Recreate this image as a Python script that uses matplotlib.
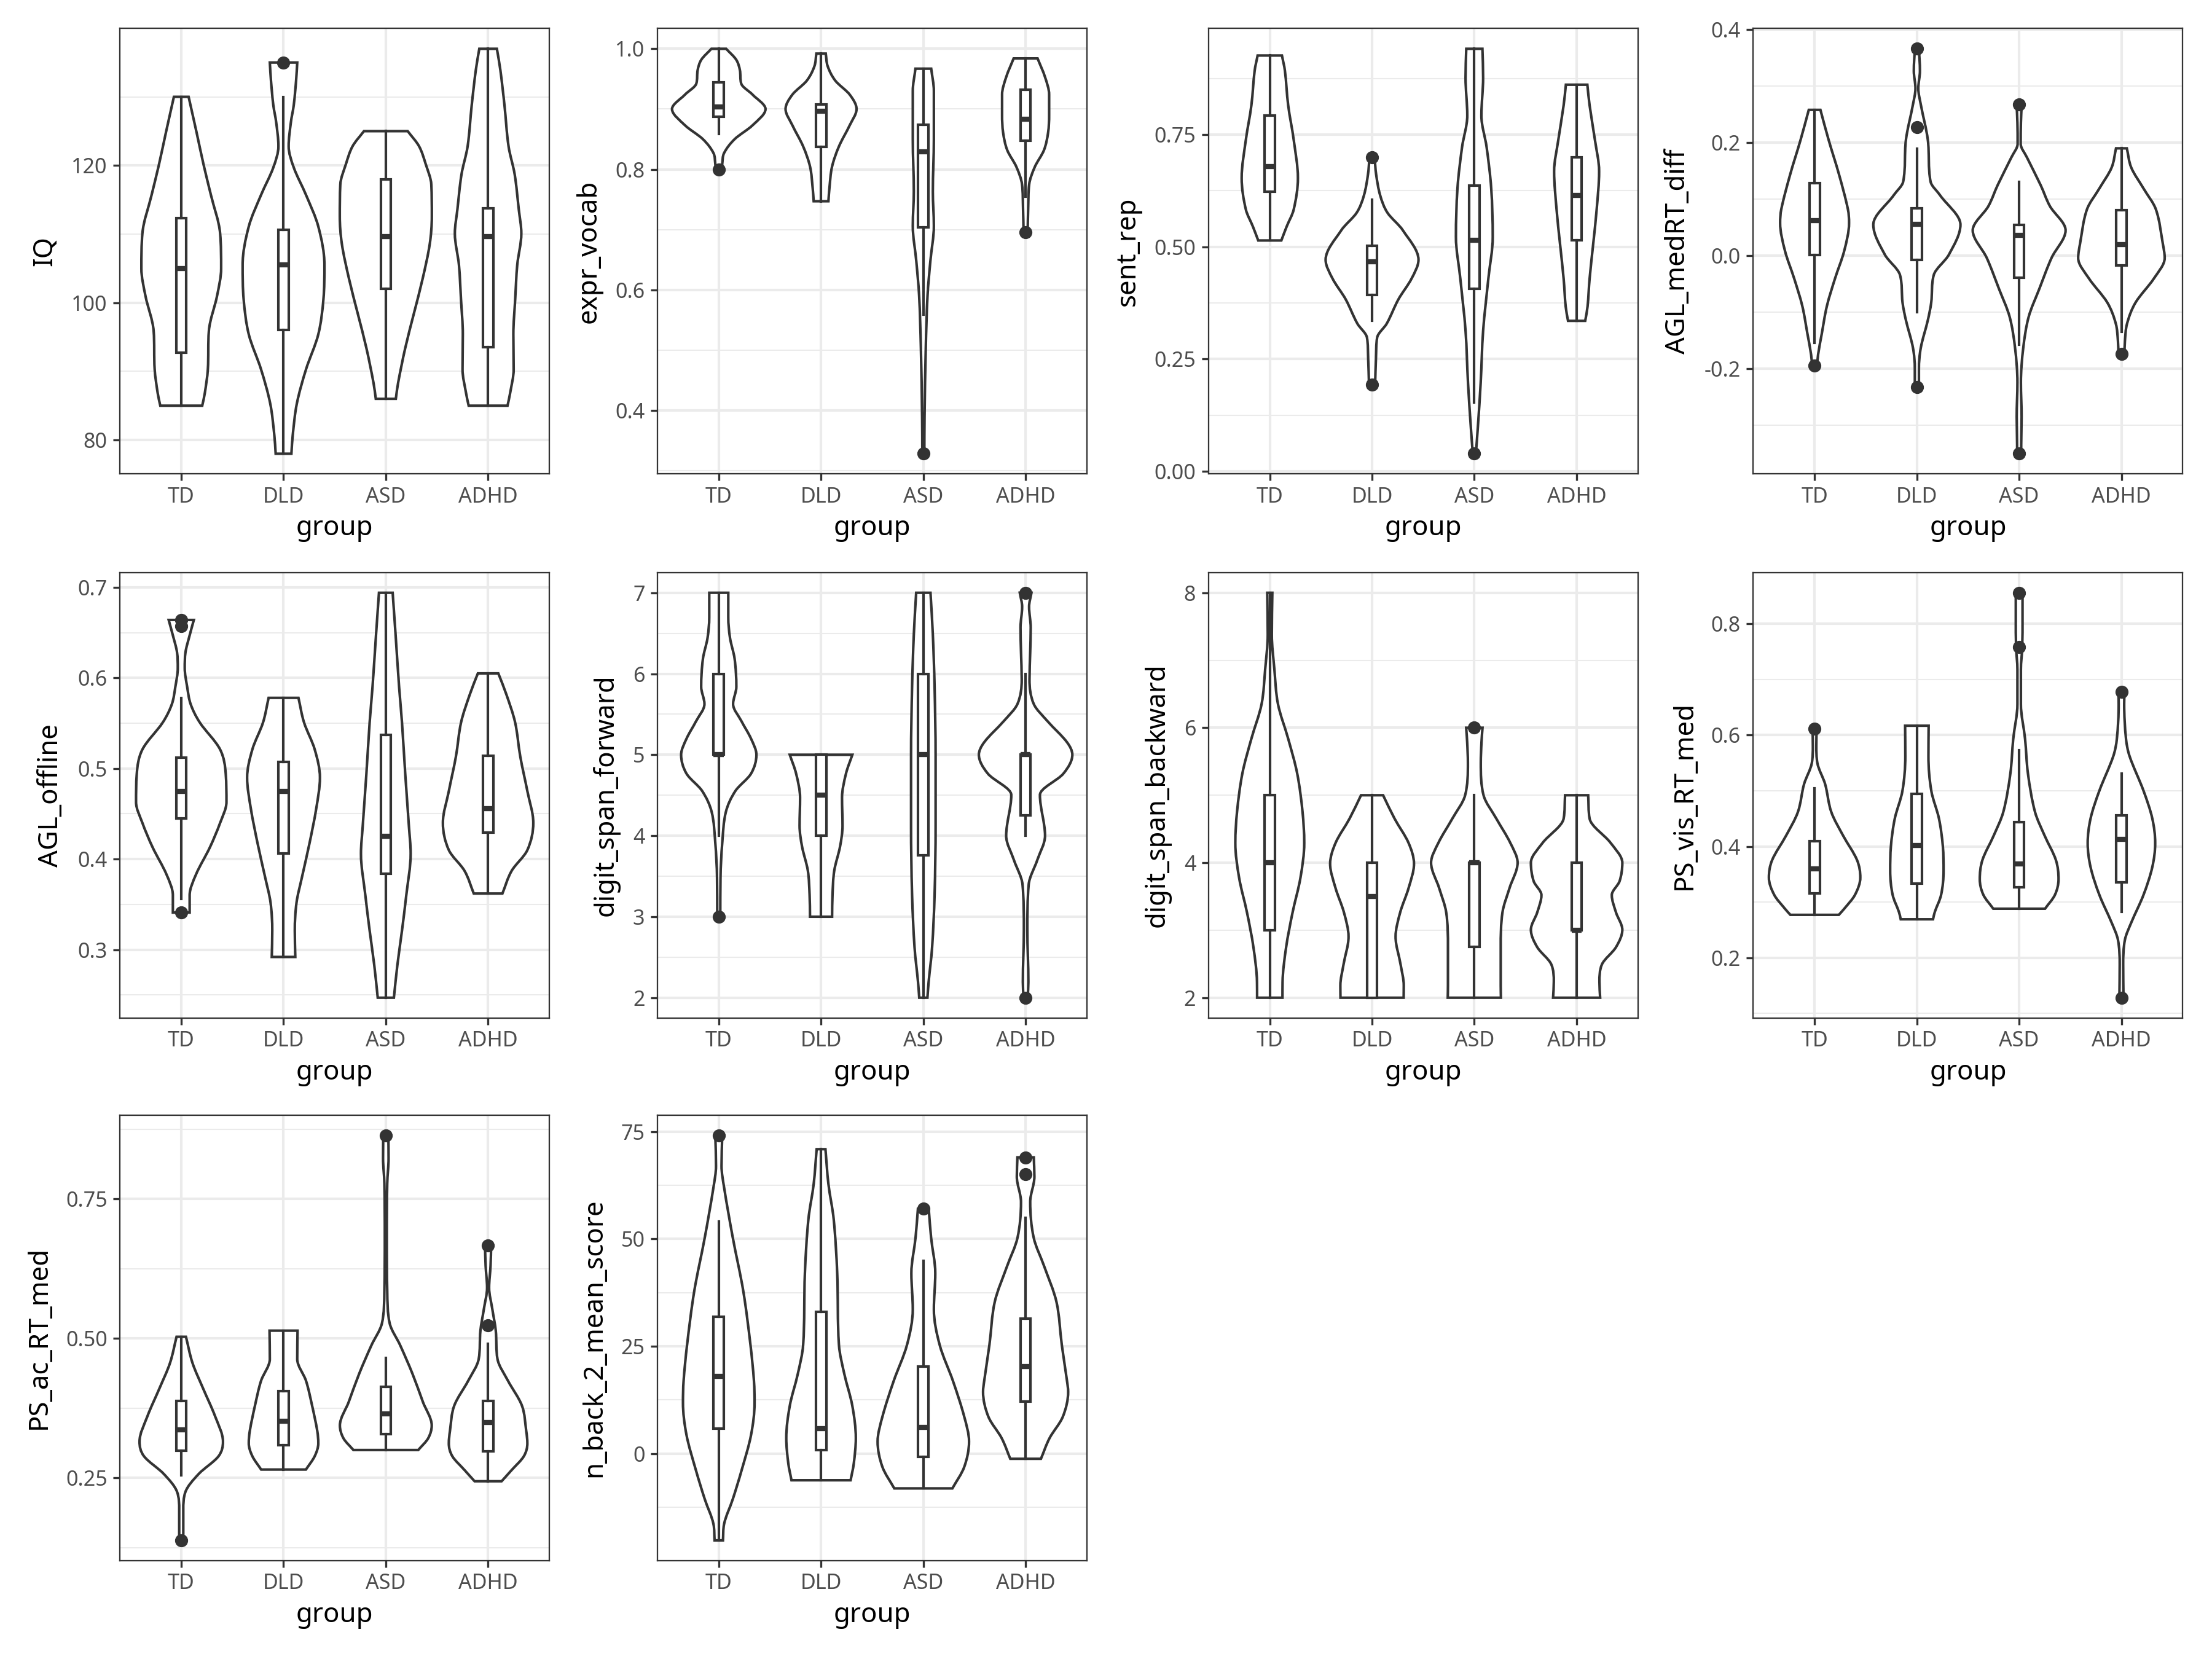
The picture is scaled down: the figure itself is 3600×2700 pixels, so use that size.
import matplotlib.pyplot as plt
from matplotlib.path import Path
from matplotlib.patches import PathPatch
from matplotlib.ticker import MultipleLocator, FuncFormatter
import numpy as np

plt.rcParams['font.family'] = ['Noto Sans', 'DejaVu Sans']

groups = ['TD', 'DLD', 'ASD', 'ADHD']

# violin outlines: y positions and half widths (in category units)
# boxes: q1, median, q3, whisker low, whisker high
iq_y = [[130.0, 124.8, 120.0, 115.7, 110.1, 105.0, 101.0, 95.9, 90.3, 86.8, 85.0],
        [135.0, 132.4, 128.8, 126.3, 122.8, 119.7, 115.7, 111.1, 105.5, 100.5, 95.4, 90.3, 85.3, 80.7, 78.0],
        [125.0, 122.8, 120.2, 117.2, 112.6, 108.6, 103.5, 98.4, 93.4, 88.3, 86.0],
        [137.0, 133.9, 128.8, 122.8, 118.7, 113.6, 110.1, 105.5, 100.5, 95.4, 90.3, 86.8, 85.0]]
iq_w = [[0.072, 0.15, 0.22, 0.29, 0.38, 0.39, 0.35, 0.27, 0.26, 0.23, 0.205],
        [0.134, 0.123, 0.10, 0.072, 0.05, 0.10, 0.22, 0.34, 0.40, 0.39, 0.34, 0.22, 0.13, 0.09, 0.077],
        [0.214, 0.325, 0.39, 0.445, 0.45, 0.43, 0.36, 0.274, 0.19, 0.12, 0.098],
        [0.086, 0.12, 0.16, 0.20, 0.26, 0.30, 0.325, 0.285, 0.265, 0.247, 0.25, 0.215, 0.19]]
iq_box = [[92.7, 105.0, 112.3, 85.0, 130.0], [96.0, 105.5, 110.6, 78.0, 130.0],
          [102.0, 109.6, 118.0, 86.0, 125.0], [93.5, 109.6, 113.8, 85.0, 137.0]]
iq_out = [[], [135.0], [], []]

vocab_y = [[1.0, 0.982, 0.965, 0.942, 0.924, 0.900, 0.873, 0.850, 0.827, 0.809, 0.800],
           [0.992, 0.971, 0.947, 0.924, 0.900, 0.873, 0.838, 0.804, 0.769, 0.747],
           [0.967, 0.930, 0.850, 0.763, 0.706, 0.648, 0.590, 0.504, 0.389, 0.328],
           [0.984, 0.953, 0.924, 0.890, 0.861, 0.832, 0.804, 0.775, 0.734, 0.696]]
vocab_w = [[0.072, 0.17, 0.206, 0.22, 0.33, 0.457, 0.33, 0.155, 0.052, 0.034, 0.03],
           [0.046, 0.065, 0.14, 0.28, 0.347, 0.28, 0.175, 0.107, 0.082, 0.072],
           [0.077, 0.103, 0.103, 0.093, 0.103, 0.069, 0.041, 0.024, 0.012, 0.01],
           [0.117, 0.19, 0.23, 0.23, 0.22, 0.18, 0.09, 0.035, 0.025, 0.02]]
vocab_box = [[0.887, 0.904, 0.944, 0.859, 1.0], [0.837, 0.896, 0.908, 0.747, 0.992],
             [0.704, 0.829, 0.874, 0.559, 0.967], [0.847, 0.883, 0.932, 0.755, 0.984]]
vocab_out = [[0.800], [], [0.328], [0.696]]

sent_y = [[0.926, 0.892, 0.815, 0.738, 0.653, 0.583, 0.545, 0.514],
          [0.699, 0.661, 0.614, 0.576, 0.537, 0.471, 0.429, 0.383, 0.329, 0.298, 0.251, 0.193],
          [0.941, 0.877, 0.792, 0.722, 0.630, 0.522, 0.429, 0.313, 0.197, 0.097, 0.039],
          [0.861, 0.815, 0.738, 0.668, 0.583, 0.506, 0.429, 0.367, 0.335]]
sent_w = [[0.119, 0.148, 0.18, 0.234, 0.275, 0.234, 0.165, 0.113],
          [0.025, 0.04, 0.08, 0.15, 0.3, 0.454, 0.386, 0.258, 0.144, 0.05, 0.038, 0.03],
          [0.079, 0.086, 0.069, 0.12, 0.165, 0.18, 0.137, 0.086, 0.062, 0.034, 0.015],
          [0.105, 0.127, 0.179, 0.22, 0.196, 0.162, 0.127, 0.107, 0.084]]
sent_box = [[0.623, 0.679, 0.792, 0.514, 0.926], [0.393, 0.466, 0.502, 0.335, 0.605],
            [0.406, 0.515, 0.636, 0.153, 0.941], [0.514, 0.614, 0.699, 0.335, 0.861]]
sent_out = [[], [0.699, 0.193], [0.039], []]

rtdiff_y = [[0.258, 0.205, 0.143, 0.082, 0.058, 0.009, -0.040, -0.089, -0.138, -0.175, -0.194],
            [0.366, 0.327, 0.296, 0.266, 0.205, 0.131, 0.107, 0.055, 0.002, -0.034, -0.083, -0.114, -0.163, -0.200, -0.232],
            [0.268, 0.235, 0.198, 0.174, 0.125, 0.088, 0.045, -0.004, -0.059, -0.108, -0.163, -0.224, -0.285, -0.334, -0.350],
            [0.190, 0.156, 0.119, 0.082, 0.021, -0.004, -0.040, -0.083, -0.120, -0.151, -0.174]]
rtdiff_w = [[0.057, 0.137, 0.24, 0.326, 0.337, 0.29, 0.2, 0.12, 0.07, 0.034, 0.025],
            [0.02, 0.03, 0.014, 0.04, 0.107, 0.134, 0.227, 0.426, 0.313, 0.165, 0.14, 0.107, 0.038, 0.02, 0.02],
            [0.025, 0.017, 0.015, 0.076, 0.21, 0.3, 0.454, 0.316, 0.196, 0.093, 0.04, 0.017, 0.024, 0.02, 0.02],
            [0.053, 0.096, 0.216, 0.337, 0.405, 0.423, 0.318, 0.137, 0.055, 0.034, 0.03]]
rtdiff_box = [[0.001, 0.0625, 0.128, -0.154, 0.258], [-0.007, 0.056, 0.084, -0.100, 0.189],
              [-0.039, 0.036, 0.055, -0.157, 0.131], [-0.017, 0.020, 0.081, -0.134, 0.190]]
rtdiff_out = [[-0.194], [0.366, 0.227, -0.232], [0.268, -0.350], [-0.174]]

agl_y = [[0.664, 0.647, 0.628, 0.611, 0.590, 0.571, 0.551, 0.521, 0.494, 0.463, 0.440, 0.413, 0.383, 0.360, 0.341],
         [0.578, 0.551, 0.521, 0.490, 0.456, 0.417, 0.379, 0.352, 0.321, 0.292],
         [0.694, 0.647, 0.590, 0.551, 0.494, 0.436, 0.406, 0.360, 0.321, 0.283, 0.247],
         [0.605, 0.582, 0.551, 0.513, 0.475, 0.440, 0.410, 0.387, 0.362]]
agl_w = [[0.123, 0.082, 0.041, 0.034, 0.058, 0.092, 0.18, 0.38, 0.435, 0.442, 0.38, 0.28, 0.144, 0.082, 0.082],
         [0.146, 0.20, 0.305, 0.356, 0.32, 0.253, 0.178, 0.127, 0.11, 0.115],
         [0.067, 0.096, 0.13, 0.158, 0.19, 0.226, 0.243, 0.2, 0.158, 0.113, 0.079],
         [0.10, 0.178, 0.264, 0.315, 0.384, 0.442, 0.384, 0.23, 0.14]]
agl_box = [[0.445, 0.475, 0.512, 0.356, 0.578], [0.406, 0.475, 0.507, 0.292, 0.578],
           [0.384, 0.425, 0.537, 0.247, 0.694], [0.429, 0.456, 0.514, 0.362, 0.605]]
agl_out = [[0.664, 0.657, 0.341], [], [], []]

dsf_y = [[7.0, 6.698, 6.441, 6.184, 5.84, 5.626, 5.412, 5.197, 5.0, 4.768, 4.554, 4.297, 3.911, 3.482, 3.0],
         [5.0, 4.768, 4.468, 4.125, 3.868, 3.568, 3.268, 3.0],
         [7.0, 6.484, 5.84, 4.983, 4.125, 3.268, 2.624, 2.196, 2.0],
         [7.0, 6.827, 6.569, 6.269, 5.926, 5.626, 5.412, 5.154, 5.0, 4.768, 4.503, 4.0, 3.696, 3.396, 2.839, 2.193, 2.0]]
dsf_w = [[0.093, 0.093, 0.11, 0.155, 0.172, 0.14, 0.223, 0.316, 0.368, 0.316, 0.163, 0.07, 0.034, 0.017, 0.015],
         [0.306, 0.244, 0.205, 0.21, 0.186, 0.129, 0.112, 0.108],
         [0.07, 0.093, 0.11, 0.12, 0.12, 0.11, 0.086, 0.052, 0.04],
         [0.057, 0.034, 0.05, 0.045, 0.038, 0.08, 0.216, 0.405, 0.457, 0.37, 0.14, 0.19, 0.113, 0.03, 0.017, 0.027, 0.02]]
dsf_box = [[5.0, 5.0, 6.0, 4.0, 7.0], [4.0, 4.5, 5.0, 3.0, 5.0],
           [3.756, 5.0, 6.0, 2.0, 7.0], [4.254, 5.0, 5.0, 4.0, 6.0]]
dsf_out = [[3.0], [], [], [7.0, 2.0]]

dsb_y = [[8.0, 7.381, 6.867, 6.352, 5.837, 5.323, 4.757, 4.293, 3.779, 3.264, 2.749, 2.232, 2.0],
         [5.0, 4.654, 4.293, 3.985, 3.624, 3.264, 2.904, 2.492, 2.18, 2.0],
         [6.0, 5.786, 5.477, 5.0, 4.654, 4.293, 4.0, 3.624, 3.264, 2.749, 2.183, 2.0],
         [5.0, 4.654, 4.293, 4.0, 3.727, 3.521, 3.264, 3.007, 2.749, 2.492, 2.235, 2.0]]
dsb_w = [[0.025, 0.02, 0.045, 0.08, 0.18, 0.268, 0.32, 0.337, 0.30, 0.223, 0.16, 0.125, 0.124],
         [0.108, 0.22, 0.357, 0.41, 0.357, 0.275, 0.23, 0.279, 0.31, 0.309],
         [0.08, 0.07, 0.063, 0.09, 0.215, 0.352, 0.423, 0.344, 0.275, 0.258, 0.258, 0.26],
         [0.113, 0.127, 0.333, 0.447, 0.42, 0.344, 0.385, 0.447, 0.385, 0.247, 0.223, 0.23]]
dsb_box = [[3.0, 4.0, 5.0, 2.0, 8.0], [2.0, 3.5, 4.0, 2.0, 5.0],
           [2.75, 4.0, 4.0, 2.0, 5.0], [3.0, 3.0, 4.0, 2.0, 5.0]]
dsb_out = [[], [], [6.0], []]

psvis_y = [[0.612, 0.581, 0.550, 0.512, 0.462, 0.419, 0.375, 0.344, 0.313, 0.288, 0.277],
           [0.617, 0.562, 0.500, 0.450, 0.400, 0.356, 0.313, 0.282, 0.269],
           [0.856, 0.811, 0.758, 0.718, 0.656, 0.593, 0.531, 0.462, 0.419, 0.375, 0.341, 0.313, 0.288],
           [0.678, 0.656, 0.593, 0.562, 0.500, 0.450, 0.406, 0.363, 0.313, 0.263, 0.232, 0.188, 0.128]]
psvis_w = [[0.02, 0.017, 0.027, 0.103, 0.163, 0.28, 0.416, 0.447, 0.395, 0.29, 0.237],
           [0.115, 0.113, 0.141, 0.216, 0.254, 0.261, 0.237, 0.175, 0.158],
           [0.033, 0.033, 0.03, 0.017, 0.017, 0.058, 0.086, 0.155, 0.25, 0.36, 0.385, 0.35, 0.253],
           [0.03, 0.027, 0.045, 0.08, 0.216, 0.302, 0.33, 0.302, 0.216, 0.096, 0.034, 0.017, 0.02]]
psvis_box = [[0.315, 0.360, 0.409, 0.277, 0.504], [0.333, 0.402, 0.494, 0.269, 0.617],
             [0.327, 0.368, 0.444, 0.288, 0.573], [0.335, 0.413, 0.456, 0.282, 0.531]]
psvis_out = [[0.612], [], [0.856, 0.758], [0.678, 0.128]]

psac_y = [[0.503, 0.456, 0.411, 0.360, 0.315, 0.289, 0.257, 0.225, 0.193, 0.138],
          [0.514, 0.463, 0.424, 0.379, 0.334, 0.312, 0.289, 0.265],
          [0.864, 0.823, 0.778, 0.681, 0.585, 0.527, 0.488, 0.437, 0.386, 0.344, 0.321, 0.300],
          [0.667, 0.630, 0.591, 0.553, 0.514, 0.463, 0.424, 0.379, 0.334, 0.312, 0.289, 0.264, 0.244]]
psac_w = [[0.046, 0.11, 0.212, 0.332, 0.408, 0.365, 0.17, 0.041, 0.02, 0.02],
          [0.137, 0.134, 0.22, 0.28, 0.33, 0.34, 0.305, 0.219],
          [0.025, 0.027, 0.014, 0.01, 0.014, 0.038, 0.14, 0.26, 0.363, 0.449, 0.414, 0.317],
          [0.03, 0.024, 0.01, 0.041, 0.075, 0.092, 0.195, 0.332, 0.373, 0.384, 0.35, 0.23, 0.132]]
psac_box = [[0.299, 0.336, 0.388, 0.255, 0.503], [0.309, 0.352, 0.406, 0.265, 0.514],
            [0.328, 0.365, 0.413, 0.300, 0.465], [0.298, 0.349, 0.388, 0.244, 0.490]]
psac_out = [[0.138], [], [0.864], [0.667, 0.524]]

nback_y = [[74.1, 67.0, 62.0, 50.3, 37.8, 25.3, 16.9, 11.9, 4.4, -3.9, -10.6, -16.4, -20.2],
           [70.9, 62.8, 54.5, 42.0, 25.3, 18.6, 11.1, 3.6, -2.3, -6.2],
           [57.0, 50.3, 42.0, 33.6, 25.3, 16.9, 8.6, 2.8, -3.1, -8.1],
           [69.0, 64.5, 58.6, 50.3, 43.6, 35.3, 25.3, 16.9, 14.4, 8.6, 3.6, -1.2]]
nback_w = [[0.034, 0.027, 0.052, 0.137, 0.24, 0.31, 0.344, 0.35, 0.316, 0.223, 0.137, 0.052, 0.041],
           [0.043, 0.072, 0.124, 0.158, 0.175, 0.227, 0.306, 0.34, 0.32, 0.289],
           [0.053, 0.076, 0.117, 0.103, 0.16, 0.29, 0.4, 0.447, 0.4, 0.284],
           [0.08, 0.086, 0.045, 0.079, 0.182, 0.302, 0.354, 0.405, 0.416, 0.364, 0.234, 0.15]]
nback_box = [[5.9, 18.0, 31.9, -20.2, 54.1], [0.8, 5.9, 33.0, -6.2, 70.9],
             [-0.8, 6.1, 20.3, -8.1, 44.9], [12.1, 20.3, 31.4, -1.2, 54.9]]
nback_out = [[74.1], [], [57.0], [69.0, 65.1]]

# name, outlines, boxes, outliers, major tick step, decimals
panels = [
    ('IQ', iq_y, iq_w, iq_box, iq_out, 20, 0),
    ('expr_vocab', vocab_y, vocab_w, vocab_box, vocab_out, 0.2, 1),
    ('sent_rep', sent_y, sent_w, sent_box, sent_out, 0.25, 2),
    ('AGL_medRT_diff', rtdiff_y, rtdiff_w, rtdiff_box, rtdiff_out, 0.2, 1),
    ('AGL_offline', agl_y, agl_w, agl_box, agl_out, 0.1, 1),
    ('digit_span_forward', dsf_y, dsf_w, dsf_box, dsf_out, 1, 0),
    ('digit_span_backward', dsb_y, dsb_w, dsb_box, dsb_out, 2, 0),
    ('PS_vis_RT_med', psvis_y, psvis_w, psvis_box, psvis_out, 0.2, 1),
    ('PS_ac_RT_med', psac_y, psac_w, psac_box, psac_out, 0.25, 2),
    ('n_back_2_mean_score', nback_y, nback_w, nback_box, nback_out, 25, 0),
]

DARK = '#333333'
col_x = [0.0542, 0.2972, 0.5463, 0.7926]
row_b = [0.7143, 0.3864, 0.0593]
PW, PH = 0.1942, 0.2685


def side(xs, ys):
    # smooth side of a violin: cubic segments with x treated as a function of y
    n = len(ys)
    d = np.diff(xs) / np.diff(ys)
    m = np.empty(n)
    m[0], m[-1] = d[0], d[-1]
    for i in range(1, n - 1):
        if d[i - 1] * d[i] <= 0:
            m[i] = 0.0
        else:
            m[i] = (xs[i + 1] - xs[i - 1]) / (ys[i + 1] - ys[i - 1])
            lim = 3 * min(abs(d[i - 1]), abs(d[i]))
            m[i] = np.clip(m[i], -lim, lim)
    verts, codes = [], []
    for i in range(n - 1):
        h = ys[i + 1] - ys[i]
        verts += [(xs[i] + m[i] * h / 3, ys[i] + h / 3),
                  (xs[i + 1] - m[i + 1] * h / 3, ys[i + 1] - h / 3),
                  (xs[i + 1], ys[i + 1])]
        codes += [Path.CURVE4] * 3
    return verts, codes


def violin_patch(pos, y, w):
    y = np.asarray(y, float)
    w = np.asarray(w, float)
    lv, lc = side(pos - w, y)
    rv, rc = side((pos + w)[::-1], y[::-1])
    verts = [(pos - w[0], y[0])] + lv + [(pos + w[-1], y[-1])] + rv + [(0, 0)]
    codes = [Path.MOVETO] + lc + [Path.LINETO] + rc + [Path.CLOSEPOLY]
    return PathPatch(Path(verts, codes), facecolor='white', edgecolor=DARK,
                     linewidth=1.0, zorder=2)


fig = plt.figure(figsize=(12, 9), dpi=300)

for k, (name, ys, ws, boxes, outs, step, dec) in enumerate(panels):
    r, c = divmod(k, 4)
    ax = fig.add_axes([col_x[c], row_b[r], PW, PH])
    pos = np.arange(1, 5)

    for p, y, w in zip(pos, ys, ws):
        ax.add_patch(violin_patch(p, y, w))

    bstats = [dict(q1=b[0], med=b[1], q3=b[2], whislo=b[3], whishi=b[4], fliers=o)
              for b, o in zip(boxes, outs)]
    ax.bxp(bstats, positions=pos, widths=0.1, patch_artist=True, showcaps=False,
           boxprops=dict(facecolor='white', edgecolor=DARK, linewidth=1.0),
           whiskerprops=dict(color=DARK, linewidth=1.0),
           medianprops=dict(color=DARK, linewidth=2.0, solid_capstyle='butt'),
           flierprops=dict(marker='o', markerfacecolor=DARK, markeredgecolor=DARK,
                           markersize=4.6, markeredgewidth=0.5),
           zorder=3)

    allv = np.concatenate([np.concatenate(ys), np.concatenate([o for o in outs if o] or [[]])])
    lo, hi = allv.min(), allv.max()
    pad = 0.05 * (hi - lo)
    ax.set_ylim(lo - pad, hi + pad)
    ax.set_xlim(0.4, 4.6)
    ax.set_xticks(pos)
    ax.set_xticklabels(groups)
    ax.yaxis.set_major_locator(MultipleLocator(step))
    ax.yaxis.set_minor_locator(MultipleLocator(step / 2))
    ax.yaxis.set_major_formatter(FuncFormatter(
        lambda v, p, d=dec: f'{0.0 if abs(v) < 1e-9 else v:.{d}f}'))

    ax.grid(which='major', color='#EBEBEB', linewidth=1.0)
    ax.grid(which='minor', axis='y', color='#EBEBEB', linewidth=0.5)
    ax.set_axisbelow(True)
    for sp in ax.spines.values():
        sp.set_color(DARK)
        sp.set_linewidth(0.55)
    ax.tick_params(which='major', length=2.7, width=0.8, color=DARK,
                   labelcolor='#4D4D4D', labelsize=8.2, pad=2.2)
    ax.tick_params(which='minor', length=0)
    ax.set_xlabel('group', fontsize=10.5, labelpad=3)
    ax.set_ylabel(name, fontsize=10.5, labelpad=5)

fig.savefig('out.png', dpi=300)
